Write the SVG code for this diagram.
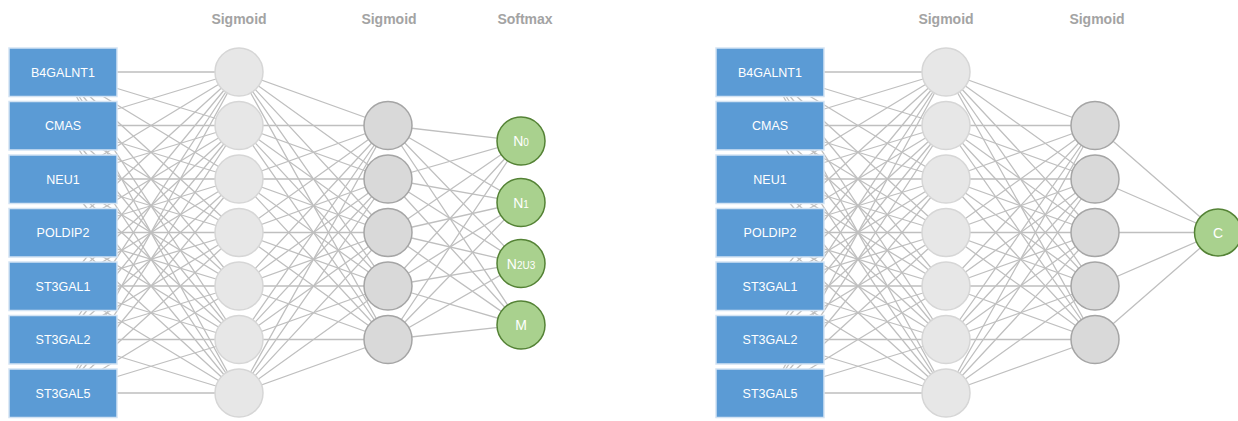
<svg xmlns="http://www.w3.org/2000/svg" width="1238" height="421" viewBox="0 0 1238 421">
<style>
.bg{fill:#ffffff}
.title{font-family:"Liberation Sans",Arial,sans-serif;font-size:14px;font-weight:bold;fill:#A3A3A3;text-anchor:middle}
.box{fill:#5B9BD5;stroke:#D3E3F3;stroke-width:1.5}
.boxt{font-family:"Liberation Sans",Arial,sans-serif;font-size:12.5px;fill:#ffffff;text-anchor:middle}
.h1{fill:#E7E7E7;stroke:#D6D6D6;stroke-width:1.5}
.h2{fill:#D9D9D9;stroke:#A5A5A5;stroke-width:1.5}
.out{fill:#A9D18E;stroke:#548235;stroke-width:1.5}
.outt{font-family:"Liberation Sans",Arial,sans-serif;font-size:14px;fill:#ffffff;text-anchor:middle}
.sub{font-size:10px}
.conn{fill:none;stroke:#BFBFBF;stroke-width:1.3}
</style>
<rect class="bg" x="0" y="0" width="1238" height="421"/>

<g id="connectors">
<path class="conn" d="M63,72L239,72M63,72L239,125.5M63,72L239,179M63,72L239,232.5M63,72L239,286M63,72L239,339.5M63,72L239,393"/>
<path class="conn" d="M63,125.5L239,72M63,125.5L239,125.5M63,125.5L239,179M63,125.5L239,232.5M63,125.5L239,286M63,125.5L239,339.5M63,125.5L239,393"/>
<path class="conn" d="M63,179L239,72M63,179L239,125.5M63,179L239,179M63,179L239,232.5M63,179L239,286M63,179L239,339.5M63,179L239,393"/>
<path class="conn" d="M63,232.5L239,72M63,232.5L239,125.5M63,232.5L239,179M63,232.5L239,232.5M63,232.5L239,286M63,232.5L239,339.5M63,232.5L239,393"/>
<path class="conn" d="M63,286L239,72M63,286L239,125.5M63,286L239,179M63,286L239,232.5M63,286L239,286M63,286L239,339.5M63,286L239,393"/>
<path class="conn" d="M63,339.5L239,72M63,339.5L239,125.5M63,339.5L239,179M63,339.5L239,232.5M63,339.5L239,286M63,339.5L239,339.5M63,339.5L239,393"/>
<path class="conn" d="M63,393L239,72M63,393L239,125.5M63,393L239,179M63,393L239,232.5M63,393L239,286M63,393L239,339.5M63,393L239,393"/>
<path class="conn" d="M239,72L388,125.5M239,72L388,179M239,72L388,232.5M239,72L388,286M239,72L388,339.5"/>
<path class="conn" d="M239,125.5L388,125.5M239,125.5L388,179M239,125.5L388,232.5M239,125.5L388,286M239,125.5L388,339.5"/>
<path class="conn" d="M239,179L388,125.5M239,179L388,179M239,179L388,232.5M239,179L388,286M239,179L388,339.5"/>
<path class="conn" d="M239,232.5L388,125.5M239,232.5L388,179M239,232.5L388,232.5M239,232.5L388,286M239,232.5L388,339.5"/>
<path class="conn" d="M239,286L388,125.5M239,286L388,179M239,286L388,232.5M239,286L388,286M239,286L388,339.5"/>
<path class="conn" d="M239,339.5L388,125.5M239,339.5L388,179M239,339.5L388,232.5M239,339.5L388,286M239,339.5L388,339.5"/>
<path class="conn" d="M239,393L388,125.5M239,393L388,179M239,393L388,232.5M239,393L388,286M239,393L388,339.5"/>
<path class="conn" d="M388,125.5L521,141M388,125.5L521,202.5M388,125.5L521,263.5M388,125.5L521,325"/>
<path class="conn" d="M388,179L521,141M388,179L521,202.5M388,179L521,263.5M388,179L521,325"/>
<path class="conn" d="M388,232.5L521,141M388,232.5L521,202.5M388,232.5L521,263.5M388,232.5L521,325"/>
<path class="conn" d="M388,286L521,141M388,286L521,202.5M388,286L521,263.5M388,286L521,325"/>
<path class="conn" d="M388,339.5L521,141M388,339.5L521,202.5M388,339.5L521,263.5M388,339.5L521,325"/>
<path class="conn" d="M770,72L946,72M770,72L946,125.5M770,72L946,179M770,72L946,232.5M770,72L946,286M770,72L946,339.5M770,72L946,393"/>
<path class="conn" d="M770,125.5L946,72M770,125.5L946,125.5M770,125.5L946,179M770,125.5L946,232.5M770,125.5L946,286M770,125.5L946,339.5M770,125.5L946,393"/>
<path class="conn" d="M770,179L946,72M770,179L946,125.5M770,179L946,179M770,179L946,232.5M770,179L946,286M770,179L946,339.5M770,179L946,393"/>
<path class="conn" d="M770,232.5L946,72M770,232.5L946,125.5M770,232.5L946,179M770,232.5L946,232.5M770,232.5L946,286M770,232.5L946,339.5M770,232.5L946,393"/>
<path class="conn" d="M770,286L946,72M770,286L946,125.5M770,286L946,179M770,286L946,232.5M770,286L946,286M770,286L946,339.5M770,286L946,393"/>
<path class="conn" d="M770,339.5L946,72M770,339.5L946,125.5M770,339.5L946,179M770,339.5L946,232.5M770,339.5L946,286M770,339.5L946,339.5M770,339.5L946,393"/>
<path class="conn" d="M770,393L946,72M770,393L946,125.5M770,393L946,179M770,393L946,232.5M770,393L946,286M770,393L946,339.5M770,393L946,393"/>
<path class="conn" d="M946,72L1095,125.5M946,72L1095,179M946,72L1095,232.5M946,72L1095,286M946,72L1095,339.5"/>
<path class="conn" d="M946,125.5L1095,125.5M946,125.5L1095,179M946,125.5L1095,232.5M946,125.5L1095,286M946,125.5L1095,339.5"/>
<path class="conn" d="M946,179L1095,125.5M946,179L1095,179M946,179L1095,232.5M946,179L1095,286M946,179L1095,339.5"/>
<path class="conn" d="M946,232.5L1095,125.5M946,232.5L1095,179M946,232.5L1095,232.5M946,232.5L1095,286M946,232.5L1095,339.5"/>
<path class="conn" d="M946,286L1095,125.5M946,286L1095,179M946,286L1095,232.5M946,286L1095,286M946,286L1095,339.5"/>
<path class="conn" d="M946,339.5L1095,125.5M946,339.5L1095,179M946,339.5L1095,232.5M946,339.5L1095,286M946,339.5L1095,339.5"/>
<path class="conn" d="M946,393L1095,125.5M946,393L1095,179M946,393L1095,232.5M946,393L1095,286M946,393L1095,339.5"/>
<path class="conn" d="M1095,125.5L1218,232.5M1095,179L1218,232.5M1095,232.5L1218,232.5M1095,286L1218,232.5M1095,339.5L1218,232.5"/>
</g>

<g id="titles">
<text class="title" x="239" y="24">Sigmoid</text>
<text class="title" x="389" y="24">Sigmoid</text>
<text class="title" x="525" y="24">Softmax</text>
<text class="title" x="946" y="24">Sigmoid</text>
<text class="title" x="1097" y="24">Sigmoid</text>
</g>

<g id="L-in-B4GALNT1"><rect class="box" x="9" y="48" width="108" height="48.5"/><text class="boxt" x="63" y="76.5">B4GALNT1</text></g>
<g id="L-in-CMAS"><rect class="box" x="9" y="101.5" width="108" height="48.5"/><text class="boxt" x="63" y="130">CMAS</text></g>
<g id="L-in-NEU1"><rect class="box" x="9" y="155" width="108" height="48.5"/><text class="boxt" x="63" y="183.5">NEU1</text></g>
<g id="L-in-POLDIP2"><rect class="box" x="9" y="208.5" width="108" height="48.5"/><text class="boxt" x="63" y="237">POLDIP2</text></g>
<g id="L-in-ST3GAL1"><rect class="box" x="9" y="262" width="108" height="48.5"/><text class="boxt" x="63" y="290.5">ST3GAL1</text></g>
<g id="L-in-ST3GAL2"><rect class="box" x="9" y="315.5" width="108" height="48.5"/><text class="boxt" x="63" y="344">ST3GAL2</text></g>
<g id="L-in-ST3GAL5"><rect class="box" x="9" y="369" width="108" height="48.5"/><text class="boxt" x="63" y="397.5">ST3GAL5</text></g>

<g id="L-h1-1"><circle class="h1" cx="239" cy="72" r="24"/></g>
<g id="L-h1-2"><circle class="h1" cx="239" cy="125.5" r="24"/></g>
<g id="L-h1-3"><circle class="h1" cx="239" cy="179" r="24"/></g>
<g id="L-h1-4"><circle class="h1" cx="239" cy="232.5" r="24"/></g>
<g id="L-h1-5"><circle class="h1" cx="239" cy="286" r="24"/></g>
<g id="L-h1-6"><circle class="h1" cx="239" cy="339.5" r="24"/></g>
<g id="L-h1-7"><circle class="h1" cx="239" cy="393" r="24"/></g>

<g id="L-h2-1"><circle class="h2" cx="388" cy="125.5" r="24"/></g>
<g id="L-h2-2"><circle class="h2" cx="388" cy="179" r="24"/></g>
<g id="L-h2-3"><circle class="h2" cx="388" cy="232.5" r="24"/></g>
<g id="L-h2-4"><circle class="h2" cx="388" cy="286" r="24"/></g>
<g id="L-h2-5"><circle class="h2" cx="388" cy="339.5" r="24"/></g>

<g id="L-out-N0"><circle class="out" cx="521" cy="141" r="24"/><text class="outt" x="521" y="146">N<tspan class="sub">0</tspan></text></g>
<g id="L-out-N1"><circle class="out" cx="521" cy="202.5" r="24"/><text class="outt" x="521" y="207.5">N<tspan class="sub">1</tspan></text></g>
<g id="L-out-N2U3"><circle class="out" cx="521" cy="263.5" r="24"/><text class="outt" x="521" y="268.5">N<tspan class="sub">2U3</tspan></text></g>
<g id="L-out-M"><circle class="out" cx="521" cy="325" r="24"/><text class="outt" x="521" y="330">M</text></g>

<g id="R-in-B4GALNT1"><rect class="box" x="716" y="48" width="108" height="48.5"/><text class="boxt" x="770" y="76.5">B4GALNT1</text></g>
<g id="R-in-CMAS"><rect class="box" x="716" y="101.5" width="108" height="48.5"/><text class="boxt" x="770" y="130">CMAS</text></g>
<g id="R-in-NEU1"><rect class="box" x="716" y="155" width="108" height="48.5"/><text class="boxt" x="770" y="183.5">NEU1</text></g>
<g id="R-in-POLDIP2"><rect class="box" x="716" y="208.5" width="108" height="48.5"/><text class="boxt" x="770" y="237">POLDIP2</text></g>
<g id="R-in-ST3GAL1"><rect class="box" x="716" y="262" width="108" height="48.5"/><text class="boxt" x="770" y="290.5">ST3GAL1</text></g>
<g id="R-in-ST3GAL2"><rect class="box" x="716" y="315.5" width="108" height="48.5"/><text class="boxt" x="770" y="344">ST3GAL2</text></g>
<g id="R-in-ST3GAL5"><rect class="box" x="716" y="369" width="108" height="48.5"/><text class="boxt" x="770" y="397.5">ST3GAL5</text></g>

<g id="R-h1-1"><circle class="h1" cx="946" cy="72" r="24"/></g>
<g id="R-h1-2"><circle class="h1" cx="946" cy="125.5" r="24"/></g>
<g id="R-h1-3"><circle class="h1" cx="946" cy="179" r="24"/></g>
<g id="R-h1-4"><circle class="h1" cx="946" cy="232.5" r="24"/></g>
<g id="R-h1-5"><circle class="h1" cx="946" cy="286" r="24"/></g>
<g id="R-h1-6"><circle class="h1" cx="946" cy="339.5" r="24"/></g>
<g id="R-h1-7"><circle class="h1" cx="946" cy="393" r="24"/></g>

<g id="R-h2-1"><circle class="h2" cx="1095" cy="125.5" r="24"/></g>
<g id="R-h2-2"><circle class="h2" cx="1095" cy="179" r="24"/></g>
<g id="R-h2-3"><circle class="h2" cx="1095" cy="232.5" r="24"/></g>
<g id="R-h2-4"><circle class="h2" cx="1095" cy="286" r="24"/></g>
<g id="R-h2-5"><circle class="h2" cx="1095" cy="339.5" r="24"/></g>

<g id="R-out-C"><circle class="out" cx="1218" cy="232.5" r="23.5"/><text class="outt" x="1218" y="237.5">C</text></g>
</svg>
